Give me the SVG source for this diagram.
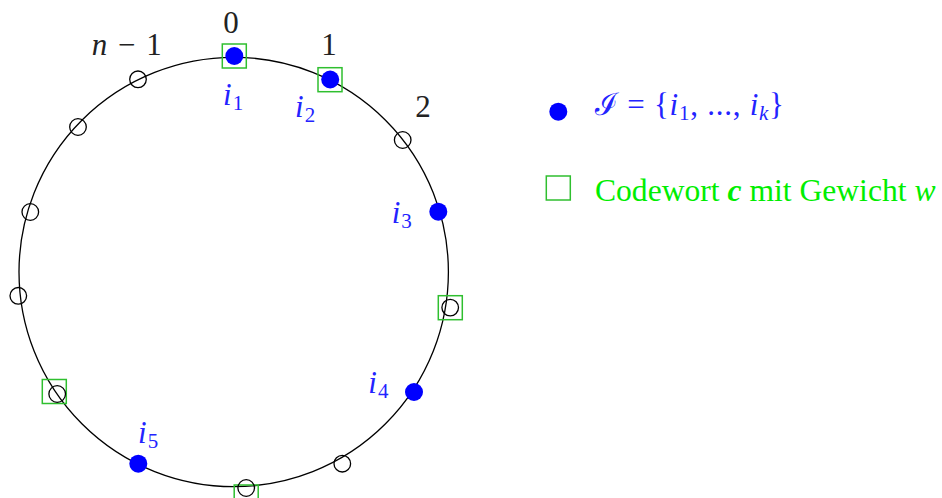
<svg xmlns="http://www.w3.org/2000/svg" width="942" height="498" viewBox="0 0 942 498">
<style>
.ring{fill:none;stroke:#000;stroke-width:1.3}
.open{fill:none;stroke:#000;stroke-width:1.3}
.dot{fill:#0000ff}
.sq{fill:none;stroke:#2fbf2f;stroke-width:1.5}
.num{font-family:"Liberation Serif","DejaVu Serif",serif;font-size:31px;fill:#222}
.lab{font-family:"Liberation Serif","DejaVu Serif",serif;font-size:31px;fill:#2323ff}
.sub{font-size:21px;font-style:normal}
.it{font-style:italic}
.lgb{font-family:"Liberation Serif","DejaVu Serif",serif;font-size:31px;fill:#2323ff}
.lgg{font-family:"Liberation Serif","DejaVu Serif",serif;font-size:31.6px;fill:#00ee00}
</style>
<g id="connectors">
<circle class="ring" cx="233.7" cy="272" r="214.7"/>
</g>
<g id="n0">
<rect class="sq" x="222.3" y="44" width="24" height="24"/>
<circle class="dot" cx="234.3" cy="56" r="9"/>
<text class="num" x="231" y="33" text-anchor="middle">0</text>
<text class="lab" x="223" y="105"><tspan class="it">i</tspan><tspan class="sub" dx="1" dy="5">1</tspan></text>
</g>
<g id="n1">
<rect class="sq" x="318" y="67.7" width="24" height="24"/>
<circle class="dot" cx="330.2" cy="79.5" r="9"/>
<text class="num" x="329" y="55" text-anchor="middle">1</text>
<text class="lab" x="295" y="116.7"><tspan class="it">i</tspan><tspan class="sub" dx="1" dy="5">2</tspan></text>
</g>
<g id="n2">
<circle class="open" cx="402.7" cy="140" r="8.3"/>
<text class="num" x="423" y="116.7" text-anchor="middle">2</text>
</g>
<g id="n3">
<circle class="dot" cx="438.3" cy="211.7" r="9"/>
<text class="lab" x="391.7" y="223"><tspan class="it">i</tspan><tspan class="sub" dx="1" dy="5">3</tspan></text>
</g>
<g id="n4">
<rect class="sq" x="438.3" y="295.7" width="24" height="24"/>
<circle class="open" cx="450.2" cy="307.6" r="8.3"/>
</g>
<g id="n5">
<circle class="dot" cx="414" cy="392" r="9"/>
<text class="lab" x="368.3" y="393"><tspan class="it">i</tspan><tspan class="sub" dx="1" dy="5">4</tspan></text>
</g>
<g id="n6">
<circle class="open" cx="342.3" cy="463.7" r="8.3"/>
</g>
<g id="n7">
<rect class="sq" x="234.2" y="485" width="24" height="24"/>
<circle class="open" cx="246.2" cy="488" r="8.3"/>
</g>
<g id="n8">
<circle class="dot" cx="138.3" cy="463.7" r="9"/>
<text class="lab" x="138" y="443"><tspan class="it">i</tspan><tspan class="sub" dx="1" dy="5">5</tspan></text>
</g>
<g id="n9">
<rect class="sq" x="42.3" y="379.5" width="24" height="24"/>
<circle class="open" cx="57.2" cy="394" r="8.3"/>
</g>
<g id="n10">
<circle class="open" cx="18.3" cy="295.8" r="8.3"/>
</g>
<g id="n11">
<circle class="open" cx="30.3" cy="212" r="8.3"/>
</g>
<g id="n12">
<circle class="open" cx="78" cy="127" r="8.3"/>
</g>
<g id="n13">
<circle class="open" cx="138" cy="79.3" r="8.3"/>
<text class="num" x="91.7" y="55" textLength="70" lengthAdjust="spacing"><tspan class="it">n</tspan> − 1</text>
</g>
<g id="legend">
<circle class="dot" cx="558.3" cy="111.7" r="9"/>
<text class="lgb" x="595" y="115" textLength="189" lengthAdjust="spacing">ℐ = {<tspan class="it">i</tspan><tspan class="sub" dy="5">1</tspan><tspan dy="-5">, ..., </tspan><tspan class="it">i</tspan><tspan class="sub it" dy="5" font-style="italic">k</tspan><tspan dy="-5">}</tspan></text>
<rect class="sq" x="546.3" y="176" width="24" height="24"/>
<text class="lgg" x="595" y="201">Codewort <tspan font-weight="bold" font-style="italic">c</tspan> mit Gewicht <tspan class="it">w</tspan></text>
</g>
</svg>
